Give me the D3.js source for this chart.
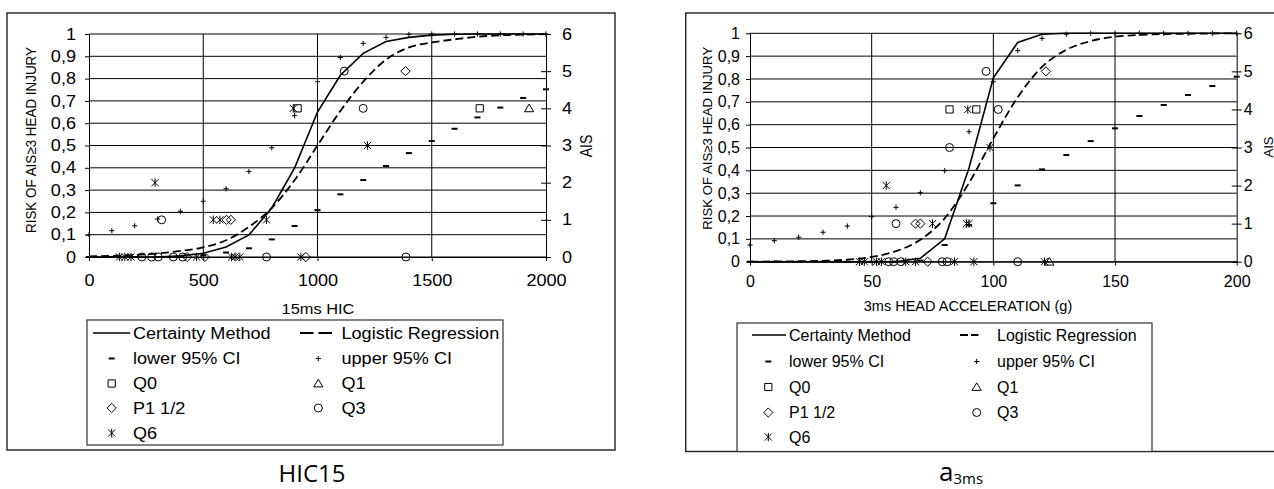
<!DOCTYPE html>
<html><head><meta charset="utf-8">
<script src="https://cdn.jsdelivr.net/npm/d3@7"></script>
<style>
html,body{margin:0;padding:0;background:#fff;overflow:hidden}
svg{display:block}
text{font-family:"Liberation Sans",Arial,sans-serif;fill:#000}
</style></head><body>
<svg id="c" width="1274" height="489"></svg>
<script>
// ---- Shared axis ticks and legend ----
const riskTicks = [0, 0.1, 0.2, 0.3, 0.4, 0.5, 0.6, 0.7, 0.8, 0.9, 1];
const aisTicks = [0, 1, 2, 3, 4, 5, 6];
const legendLabels = ["Certainty Method", "Logistic Regression", "lower 95% CI", "upper 95% CI",
                      "Q0", "Q1", "P1 1/2", "Q3", "Q6"];
const legendKinds = ["solid", "dashed", "dash", "plus", "square", "triangle", "diamond", "circle", "asterisk"];

// ---- 15ms HIC ----
const hicTicks = [0, 500, 1000, 1500, 2000];
const hicX = [0, 100, 200, 300, 400, 500, 600, 700, 800, 900, 1000, 1100, 1200, 1300, 1400, 1500, 1600, 1700, 1800, 1900, 2000];
const hicCertainty = [0, 0, 0, 0, 0.005, 0.017, 0.045, 0.099, 0.22, 0.40, 0.65, 0.815, 0.913, 0.966, 0.985, 0.995, 0.999, 1, 1, 1, 1];
const hicLogistic = [0.003, 0.005, 0.009, 0.016, 0.027, 0.043, 0.075, 0.135, 0.22, 0.345, 0.5, 0.655, 0.786, 0.885, 0.94, 0.962, 0.976, 0.988, 0.994, 0.997, 0.999];
const hicLower = [0, 0, 0, 0, 0.002, 0.008, 0.02, 0.039, 0.079, 0.139, 0.21, 0.281, 0.345, 0.408, 0.466, 0.52, 0.575, 0.626, 0.67, 0.713, 0.752];
const hicUpper = [0.10, 0.118, 0.14, 0.17, 0.205, 0.25, 0.306, 0.383, 0.49, 0.634, 0.786, 0.895, 0.958, 0.985, 0.998, 1, 1, 1, 1, 1, 1];
// test cases: [HIC, AIS]
const hicQ0 = [[913, 4], [1710, 4]];
const hicQ1 = [[1926, 4]];
const hicP1half = [[429, 0], [507, 0], [602, 1], [621, 1], [949, 0], [1385, 5]];
const hicQ3 = [[231, 0], [274, 0], [303, 0], [318, 1], [369, 0], [410, 0], [777, 0], [1117, 5], [1200, 4], [1387, 0]];
const hicQ6 = [[133, 0], [157, 0], [184, 0], [289, 2], [471, 0], [544, 1], [573, 1], [624, 0], [639, 0], [660, 0], [777, 1], [894, 4], [927, 0], [1219, 3]];

// ---- 3ms head acceleration (g) ----
const accTicks = [0, 50, 100, 150, 200];
const accX = [0, 10, 20, 30, 40, 50, 60, 70, 80, 90, 100, 110, 120, 130, 140, 150, 160, 170, 180, 190, 200];
const accCertainty = [0, 0, 0, 0, 0, 0, 0, 0.015, 0.10, 0.41, 0.805, 0.96, 0.996, 1, 1, 1, 1, 1, 1, 1, 1];
const accLogistic = [0.0005, 0.001, 0.002, 0.004, 0.009, 0.021, 0.046, 0.096, 0.19, 0.345, 0.54, 0.72, 0.853, 0.928, 0.966, 0.985, 0.993, 0.997, 0.998, 0.999, 1];
const accLower = [0, 0, 0, 0, 0, 0, 0, 0.005, 0.073, 0.16, 0.256, 0.334, 0.404, 0.467, 0.528, 0.584, 0.638, 0.686, 0.73, 0.769, 0.81];
const accUpper = [0.073, 0.092, 0.107, 0.129, 0.156, 0.197, 0.238, 0.302, 0.398, 0.569, 0.788, 0.924, 0.978, 0.996, 1, 1, 1, 1, 1, 1, 1];
// test cases: [acceleration, AIS]
const accQ0 = [[82, 4], [93, 4]];
const accQ1 = [[123, 0]];
const accP1half = [[68, 1], [70, 1], [73, 0], [121.6, 5]];
const accQ3 = [[57, 0], [59, 0], [60, 1], [62, 0], [79, 0], [81, 0], [82, 3], [97, 5], [102, 4], [110, 0]];
const accQ6 = [[45, 0], [47, 0], [52, 0], [54, 0], [56, 2], [64, 0], [68, 0], [75, 1], [84, 0], [89, 1], [90, 1], [89.5, 4], [92, 0], [98.6, 3], [121, 0]];

// ---- marker shapes ----
const markerPath = {
  square: "M-3.6,-3.6h7.2v7.2h-7.2Z",
  diamond: "M0,-4.6L4.6,0L0,4.6L-4.6,0Z",
  triangle: "M0,-4.2L4.6,3.4L-4.6,3.4Z",
  asterisk: "M0,-4.2V4.2M-3.6,-3.6L3.6,3.6M3.6,-3.6L-3.6,3.6",
  plus: "M-2.6,0H2.6M0,-2.6V2.6",
  dash: "M-3,0H3"
};
function drawMarker(g, kind, cx, cy) {
  if (kind === "circle") {
    return g.append("circle").attr("cx", cx).attr("cy", cy).attr("r", 4)
      .attr("fill", "none").attr("stroke", "#000").attr("stroke-width", 1);
  }
  return g.append("path").attr("d", markerPath[kind])
    .attr("transform", `translate(${cx},${cy})`)
    .attr("fill", "none").attr("stroke", "#000")
    .attr("stroke-width", kind === "dash" ? 2 : 1);
}

const fmtRisk = d => d === 0 ? "0" : d === 1 ? "1" : d.toFixed(1).replace(".", ",");

const svg = d3.select("#c");

function stretchText(sel, k) {
  sel.each(function () {
    const t = d3.select(this);
    const x = +(t.attr("x") || 0), y = +(t.attr("y") || 0);
    t.attr("x", 0).attr("y", 0).attr("transform", `translate(${x},${y}) scale(${k},1)`);
  });
}
function label(g, x, y, str, size, k, anchor, rotate, len) {
  const t = g.append("text")
    .attr("transform", `translate(${x},${y}) scale(${k},1)` + (rotate ? " rotate(-90)" : ""))
    .attr("text-anchor", anchor || "start")
    .style("font-size", size + "px")
    .text(str);
  if (len) t.attr("textLength", len).attr("lengthAdjust", "spacingAndGlyphs");
  return t;
}

function panel(cfg) {
  const g = svg.append("g");
  const k = cfg.stretch;

  g.append("rect")
    .attr("x", cfg.frame[0]).attr("y", cfg.frame[1])
    .attr("width", cfg.frame[2] - cfg.frame[0]).attr("height", cfg.frame[3] - cfg.frame[1])
    .attr("fill", "#fff").attr("stroke", "#222").attr("stroke-width", 1.4);

  const x = d3.scaleLinear().domain(cfg.xDomain).range([cfg.l, cfg.r]);
  const yL = d3.scaleLinear().domain([0, 1]).range([cfg.b, cfg.t]);
  const yR = d3.scaleLinear().domain([0, 6]).range([cfg.b, cfg.t]);

  // grid
  g.append("g").selectAll("line").data(riskTicks).join("line")
    .attr("x1", cfg.l).attr("x2", cfg.r).attr("y1", d => yL(d)).attr("y2", d => yL(d))
    .attr("stroke", "#000").attr("stroke-width", 1);
  g.append("g").selectAll("line").data(cfg.xTicks.slice(1, -1)).join("line")
    .attr("x1", d => x(d)).attr("x2", d => x(d)).attr("y1", cfg.t).attr("y2", cfg.b)
    .attr("stroke", "#000").attr("stroke-width", 1);

  // left axis (risk)
  const axL = g.append("g").attr("transform", `translate(${cfg.l},0)`)
    .call(d3.axisLeft(yL).tickValues(riskTicks).tickFormat(fmtRisk)
      .tickSize(4).tickSizeOuter(0).tickPadding(cfg.leftPad));
  axL.attr("font-family", null).attr("font-size", null);
  axL.selectAll("text").style("font-size", cfg.tickFont + "px");
  stretchText(axL.selectAll("text"), k);

  // right axis (AIS), ticks crossing the axis
  const axR = g.append("g").attr("transform", `translate(${cfg.r},0)`)
    .call(d3.axisRight(yR).tickValues(aisTicks).tickFormat(d3.format("d"))
      .tickSize(5).tickSizeOuter(0).tickPadding(cfg.rightPad));
  axR.attr("font-family", null).attr("font-size", null);
  axR.selectAll(".tick line").attr("x1", -5);
  axR.selectAll("text").style("font-size", cfg.tickFont + "px");
  stretchText(axR.selectAll("text"), k);

  // bottom axis
  const axB = g.append("g").attr("transform", `translate(0,${cfg.b})`)
    .call(d3.axisBottom(x).tickValues(cfg.xTicks).tickFormat(d3.format("d"))
      .tickSize(4).tickSizeOuter(0).tickPadding(cfg.bottomPad));
  axB.attr("font-family", null).attr("font-size", null);
  axB.selectAll("text").style("font-size", cfg.tickFont + "px");
  stretchText(axB.selectAll("text"), k);

  // curves
  const pts = (xs, ys) => xs.map((v, i) => [v, ys[i]]);
  const lineLin = d3.line().x(d => x(d[0])).y(d => yL(d[1]));
  const lineSmooth = d3.line().x(d => x(d[0])).y(d => yL(d[1])).curve(d3.curveMonotoneX);
  g.append("path").attr("d", lineLin(pts(cfg.xs, cfg.certainty)))
    .attr("fill", "none").attr("stroke", "#000").attr("stroke-width", 1.6);
  g.append("path").attr("d", lineSmooth(pts(cfg.xs, cfg.logistic)))
    .attr("fill", "none").attr("stroke", "#000").attr("stroke-width", 1.8)
    .attr("stroke-dasharray", "8,4");

  // confidence bounds
  const mk = g.append("g");
  cfg.xs.forEach((v, i) => drawMarker(mk, "dash", x(v), yL(cfg.lower[i])));
  cfg.xs.forEach((v, i) => drawMarker(mk, "plus", x(v), yL(cfg.upper[i])));

  // test cases on the AIS axis
  [["square", cfg.q0], ["triangle", cfg.q1], ["diamond", cfg.p1], ["circle", cfg.q3], ["asterisk", cfg.q6]]
    .forEach(([kind, data]) => data.forEach(d => drawMarker(mk, kind, x(d[0]), yR(d[1]))));

  // titles
  label(g, cfg.xTitlePos[0], cfg.xTitlePos[1], cfg.xTitle, cfg.xTitleFont, k, "middle");
  label(g, cfg.yTitlePos[0], cfg.yTitlePos[1], "RISK OF AIS\u22653 HEAD INJURY", cfg.yTitleFont, k, "middle", true, cfg.yTitleLen);
  label(g, cfg.aisTitlePos[0], cfg.aisTitlePos[1], "AIS", cfg.aisTitleFont, k, "middle", true);

  // legend
  const L = cfg.legend;
  g.append("rect").attr("x", L.box[0]).attr("y", L.box[1])
    .attr("width", L.box[2] - L.box[0]).attr("height", L.box[3] - L.box[1])
    .attr("fill", "#fff").attr("stroke", "#333").attr("stroke-width", 1.2);
  legendLabels.forEach((name, i) => {
    const col = i % 2, row = Math.floor(i / 2);
    const yy = L.rows[row];
    const kind = legendKinds[i];
    if (kind === "solid") {
      g.append("line").attr("x1", L.solid[0]).attr("x2", L.solid[1]).attr("y1", yy).attr("y2", yy)
        .attr("stroke", "#000").attr("stroke-width", 1.5);
    } else if (kind === "dashed") {
      g.append("line").attr("x1", L.dashed[0]).attr("x2", L.dashed[1]).attr("y1", yy).attr("y2", yy)
        .attr("stroke", "#000").attr("stroke-width", 2).attr("stroke-dasharray", L.dashArr);
    } else {
      drawMarker(g, kind, col ? L.sym2 : L.sym1, yy);
    }
    label(g, col ? L.text2 : L.text1, yy + 5.8, name, L.font, k, "start");
  });
}

panel({
  frame: [7, 13, 615, 450],
  l: 89, r: 546, t: 34, b: 257,
  xDomain: [0, 2000], xTicks: hicTicks, xs: hicX,
  certainty: hicCertainty, logistic: hicLogistic, lower: hicLower, upper: hicUpper,
  q0: hicQ0, q1: hicQ1, p1: hicP1half, q3: hicQ3, q6: hicQ6,
  stretch: 1.13, tickFont: 16, leftPad: 9, rightPad: 11, bottomPad: 13.5,
  xTitle: "15ms HIC", xTitlePos: [318, 313.5], xTitleFont: 14.5,
  yTitlePos: [36, 140], yTitleFont: 13, yTitleLen: 186,
  aisTitlePos: [591.5, 146], aisTitleFont: 14,
  legend: {
    box: [87, 320, 503, 445], rows: [333, 358.5, 383.5, 408, 433],
    solid: [93, 130], dashed: [300, 333.5], dashArr: "13.5,5",
    sym1: 111.7, text1: 133, sym2: 318.3, text2: 341.5, font: 16
  }
});

panel({
  frame: [685.7, 13, 1300, 451.5],
  l: 750, r: 1236.7, t: 33.3, b: 261.7,
  xDomain: [0, 200], xTicks: accTicks, xs: accX,
  certainty: accCertainty, logistic: accLogistic, lower: accLower, upper: accUpper,
  q0: accQ0, q1: accQ1, p1: accP1half, q3: accQ3, q6: accQ6,
  stretch: 1, tickFont: 16, leftPad: 6, rightPad: 2, bottomPad: 10,
  xTitle: "3ms HEAD ACCELERATION (g)", xTitlePos: [968, 310.5], xTitleFont: 14.5,
  yTitlePos: [711.7, 138.3], yTitleFont: 13, yTitleLen: 183,
  aisTitlePos: [1272.5, 147], aisTitleFont: 13,
  legend: {
    box: [737, 323, 1152, 451.5], rows: [335, 361.5, 387, 412.5, 437],
    solid: [752, 786], dashed: [960, 978.5], dashArr: "8,3",
    sym1: 768.3, text1: 789, sym2: 976.7, text2: 997, font: 16
  }
});

// panel captions
svg.append("text").attr("x", 312).attr("y", 482).attr("text-anchor", "middle")
  .style("font-family", "'Open Sans',sans-serif").style("font-size", "24px").text("HIC15");
const cap = svg.append("text").attr("x", 939).attr("y", 481)
  .style("font-family", "'Open Sans',sans-serif").style("font-size", "26px");
cap.append("tspan").text("a");
cap.append("tspan").attr("dy", 3).style("font-size", "15px").text("3ms");
</script>
</body></html>
